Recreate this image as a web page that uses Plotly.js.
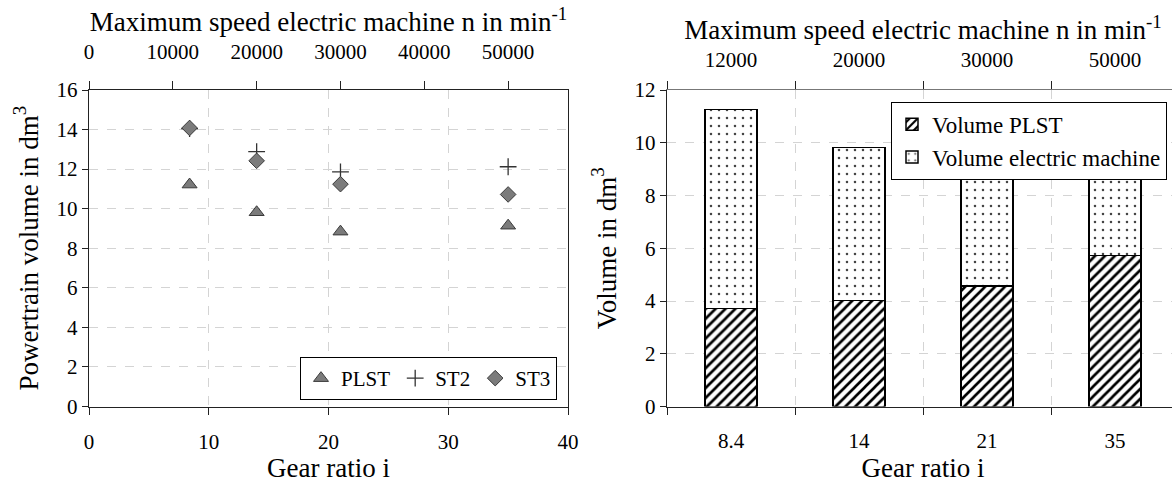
<!DOCTYPE html>
<html>
<head>
<meta charset="utf-8">
<script src="https://cdn.plot.ly/plotly-3.0.1.min.js"></script>
<style>
html,body{margin:0;padding:0;overflow:hidden;background:#fff;width:1172px;height:483px;}
#chart{width:1184px;height:483px;}
</style>
</head>
<body>
<div id="chart"></div>
<script>
// ---- data ----
const gearRatios = [8.4, 14, 21, 35];
const gearRatioLabels = ['8.4', '14', '21', '35'];
const speedLabels = ['12000', '20000', '30000', '50000'];
const speedTicks = [0, 10000, 20000, 30000, 40000, 50000];
const ratioTicks = [0, 10, 20, 30, 40];
const plstVolume = [11.22, 9.82, 8.84, 9.14];
const st2Volume = [14.05, 12.88, 11.86, 12.12];
const st3Volume = [14.08, 12.42, 11.24, 10.72];
const volumePLST = [3.72, 4.01, 4.57, 5.73];
const volumeEM = [7.54, 5.81, 4.28, 3.42];

const FONT = 'Liberation Serif';
const W = 1184, H = 483;
const px = v => v / W;
const py = v => 1 - v / H;

const markerFill = '#7b7b7b';
const markerLine = '#3a3a3a';

const traces = [
  {type:'scatter', mode:'markers', name:'PLST', x:gearRatios, y:plstVolume, xaxis:'x', yaxis:'y',
   marker:{symbol:'triangle-up', size:13, color:markerFill, line:{color:markerLine, width:1}}, legend:'legend'},
  {type:'scatter', mode:'markers', name:'ST2', x:gearRatios, y:st2Volume, xaxis:'x', yaxis:'y',
   marker:{symbol:'cross-thin', size:12, color:'#333', line:{color:'#333', width:1.3}}, legend:'legend'},
  {type:'scatter', mode:'markers', name:'ST3', x:gearRatios, y:st3Volume, xaxis:'x', yaxis:'y',
   marker:{symbol:'diamond', size:12, color:markerFill, line:{color:markerLine, width:1}}, legend:'legend'},
  // carrier for the top speed axis of the left plot (draws nothing)
  {type:'scatter', mode:'markers', x:speedTicks, y:speedTicks.map(() => null), xaxis:'x2', yaxis:'y',
   showlegend:false, hoverinfo:'skip', marker:{opacity:0}},
  {type:'bar', name:'Volume PLST', x:gearRatioLabels, y:volumePLST, xaxis:'x3', yaxis:'y3', legend:'legend2',
   marker:{color:'#fff', line:{color:'#000', width:1.5}, pattern:{shape:'/', fgcolor:'#000', bgcolor:'#fff', size:7, solidity:0.38}}},
  {type:'bar', name:'Volume electric machine', x:gearRatioLabels, y:volumeEM, xaxis:'x3', yaxis:'y3', legend:'legend2',
   marker:{color:'#fff', line:{color:'#000', width:1.5}, pattern:{shape:'.', fgcolor:'#444', bgcolor:'#fff', size:8, solidity:0.08}}},
  // carrier for the top speed axis of the right plot (draws nothing)
  {type:'scatter', mode:'markers', x:speedLabels, y:speedLabels.map(() => null), xaxis:'x4', yaxis:'y3', showlegend:false,
   hoverinfo:'skip', marker:{opacity:0}}
];

const grid = {showgrid:true, gridcolor:'#d4d4d4', griddash:'dash', gridwidth:1};
const lineStyle = {showline:true, linecolor:'#222', linewidth:1.3, zeroline:false};
const tickStyle = () => ({ticks:'outside', ticklen:7, tickcolor:'#222', tickwidth:1, tickfont:{size:21, family:FONT, color:'#000'}});
const titleFont = () => ({size:27, family:FONT, color:'#000'});

const yDom = [py(406.5), py(90)];

const layout = {
  width:W, height:H,
  margin:{l:0, r:0, t:0, b:0},
  paper_bgcolor:'#fff', plot_bgcolor:'#fff',
  font:{family:FONT, size:21, color:'#000'},
  barmode:'stack', bargap:0.59,
  showlegend:true,
  xaxis:Object.assign({}, grid, lineStyle, tickStyle(), {domain:[px(89), px(568)], anchor:'y', range:[0,40], tickmode:'array', tickvals:ratioTicks,
    ticklabelstandoff:9, title:{text:'Gear ratio i', font:titleFont(), standoff:10}}),
  xaxis2:Object.assign({}, lineStyle, tickStyle(), {overlaying:'x', side:'top', anchor:'y', range:[0,57143], tickmode:'array', tickvals:speedTicks,
    tickformat:'d', showgrid:false, ticklen:8, ticklabelstandoff:13,
    title:{text:'Maximum speed electric machine n in min<sup>-1</sup>', font:titleFont(), standoff:0}}),
  yaxis:Object.assign({}, grid, lineStyle, tickStyle(), {domain:yDom, anchor:'x', range:[0,16], dtick:2, mirror:true, ticklen:6,
    title:{text:'Powertrain volume in dm<sup>3</sup>', font:titleFont(), standoff:10}}),
  xaxis3:Object.assign({}, grid, lineStyle, tickStyle(), {domain:[px(667), px(1179)], anchor:'y3', type:'category', tickson:'boundaries',
    range:[-0.5,3.5], ticklabelstandoff:15,
    title:{text:'Gear ratio i', font:titleFont(), standoff:13}}),
  xaxis4:Object.assign({}, lineStyle, tickStyle(), {overlaying:'x3', side:'top', anchor:'y3', type:'category', tickson:'boundaries',
    range:[-0.5,3.5], showgrid:false, ticklen:8, ticklabelstandoff:13, linecolor:'#777',
    title:{text:'Maximum speed electric machine n in min<sup>-1</sup>', font:titleFont(), standoff:0}}),
  yaxis3:Object.assign({}, grid, lineStyle, tickStyle(), {domain:yDom, anchor:'x3', range:[0,12], dtick:2, ticklen:6,
    title:{text:'Volume in dm<sup>3</sup>', font:titleFont(), standoff:10}}),
  legend:{x:px(557), xanchor:'right', y:py(400), yanchor:'bottom', orientation:'h',
    bgcolor:'#fff', bordercolor:'#000', borderwidth:1, font:{size:21, family:FONT, color:'#000'}, itemwidth:30},
  legend2:{x:px(1167), xanchor:'right', y:py(101.7), yanchor:'top', orientation:'v', traceorder:'normal',
    bgcolor:'#fff', bordercolor:'#000', borderwidth:1, font:{size:23, family:FONT, color:'#000'}, itemwidth:30}
};

Plotly.newPlot('chart', traces, layout, {displayModeBar:false, staticPlot:true});
</script>
</body>
</html>
